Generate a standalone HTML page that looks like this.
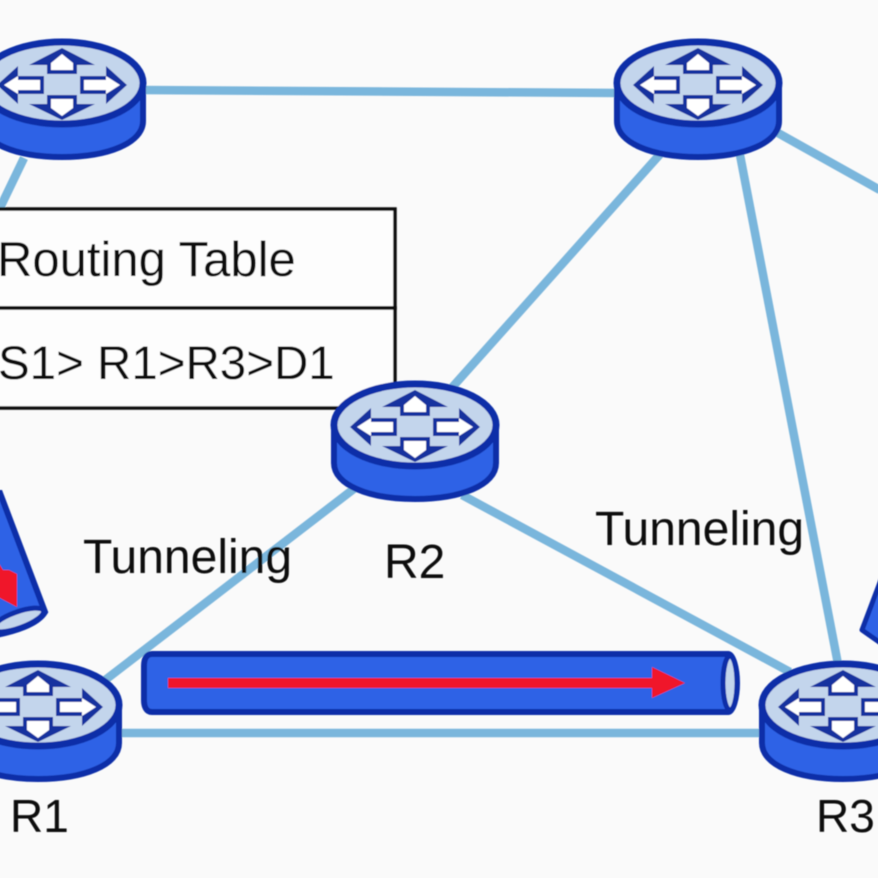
<!DOCTYPE html>
<html><head><meta charset="utf-8"><style>
html,body{margin:0;padding:0;background:#fafafa}
svg{display:block}
text{font-family:"Liberation Sans",sans-serif;fill:#0c0c0c}
</style></head><body>
<svg width="878" height="878" viewBox="0 0 878 878" xmlns="http://www.w3.org/2000/svg">
<defs>
<filter id="b" x="-5%" y="-5%" width="110%" height="110%"><feGaussianBlur stdDeviation="0.6"/></filter>
<g id="r">
<path d="M-81,0V38C-81,60 -46,74 0,74S81,60 81,38V0Z" fill="#2f62e6" stroke="#0d2fa8" stroke-width="6"/>
<ellipse cx="0" cy="0" rx="81" ry="41" fill="#c3d5ec" stroke="#0d2fa8" stroke-width="7"/>
<g fill="#12309f">
<path d="M0,-35L-33,-18H-15V-9H15V-18H33Z"/>
<path d="M0,37L-33,21H-15V12H15V21H33Z"/>
<path d="M-65,2L-44,-17V-7H-18V11H-44V21Z"/>
<path d="M65,2L44,-17V-7H18V11H44V21Z"/>
</g>
<g fill="#fff">
<path d="M0,-29L-11,-20V-13H11V-20Z"/>
<path d="M0,33L-11,25V16H11V25Z"/>
<path d="M-58,2L-44,-7V-3H-22V7H-44V11Z"/>
<path d="M58,2L44,-7V-3H22V7H44V11Z"/>
</g>
</g>
</defs>
<rect width="878" height="878" fill="#fafafa"/>
<g filter="url(#b)">
<g stroke="#7ab6dc" stroke-width="8.5" fill="none">
<path d="M140,90L620,93"/>
<path d="M-2,212L24,158"/>
<path d="M662,152L448,392"/>
<path d="M740,155L838,664"/>
<path d="M778,133L880,190"/>
<path d="M355,488L100,684"/>
<path d="M462,495L790,672"/>
<path d="M115,733H770"/>
</g>
<rect x="-10" y="209" width="405" height="99" fill="#fdfdfd" stroke="#111" stroke-width="3.5"/>
<rect x="-10" y="308" width="405" height="100" fill="#fdfdfd" stroke="#111" stroke-width="3.5"/>
<text x="-3" y="276" font-size="49">Routing Table</text>
<text x="-2" y="379" font-size="47.5">S1&gt; R1&gt;R3&gt;D1</text>
<text x="83" y="573" font-size="48">Tunneling</text>
<text x="595" y="545" font-size="48">Tunneling</text>
<text x="384" y="578" font-size="48">R2</text>
<text x="10" y="832" font-size="46">R1</text>
<text x="816" y="832" font-size="46">R3</text>
<use href="#r" x="62" y="83"/>
<use href="#r" x="698" y="83"/>
<use href="#r" x="415" y="425"/>
<use href="#r" x="38" y="705"/>
<use href="#r" x="843" y="705"/>
<path d="M152,654H728C733,654 737,668 737,683S733,712 728,712H152C146,712 144,706 144,700V666C144,660 146,654 152,654Z" fill="#2f62e6" stroke="#0d2fa8" stroke-width="6"/>
<ellipse cx="730" cy="683" rx="7" ry="27" fill="#c3d5ec" stroke="#0d2fa8" stroke-width="5"/>
<path d="M168,678H652V667L685,683L652,698V688H168Z" fill="#f0182c"/>
<path d="M0,493L45,612C38,624 15,632 -10,636V493Z" fill="#2f62e6" stroke="#0d2fa8" stroke-width="6"/>
<ellipse cx="18" cy="620" rx="27" ry="8" transform="rotate(-20 18 620)" fill="#c3d5ec" stroke="#0d2fa8" stroke-width="5"/>
<path d="M-2,562L3,570L9,570L17,574L17,607L-2,597Z" fill="#f0182c"/>
<path d="M882,577L862,630L882,644Z" fill="#2f62e6" stroke="#0d2fa8" stroke-width="5" stroke-linejoin="round"/>
</g>
</svg>
</body></html>
